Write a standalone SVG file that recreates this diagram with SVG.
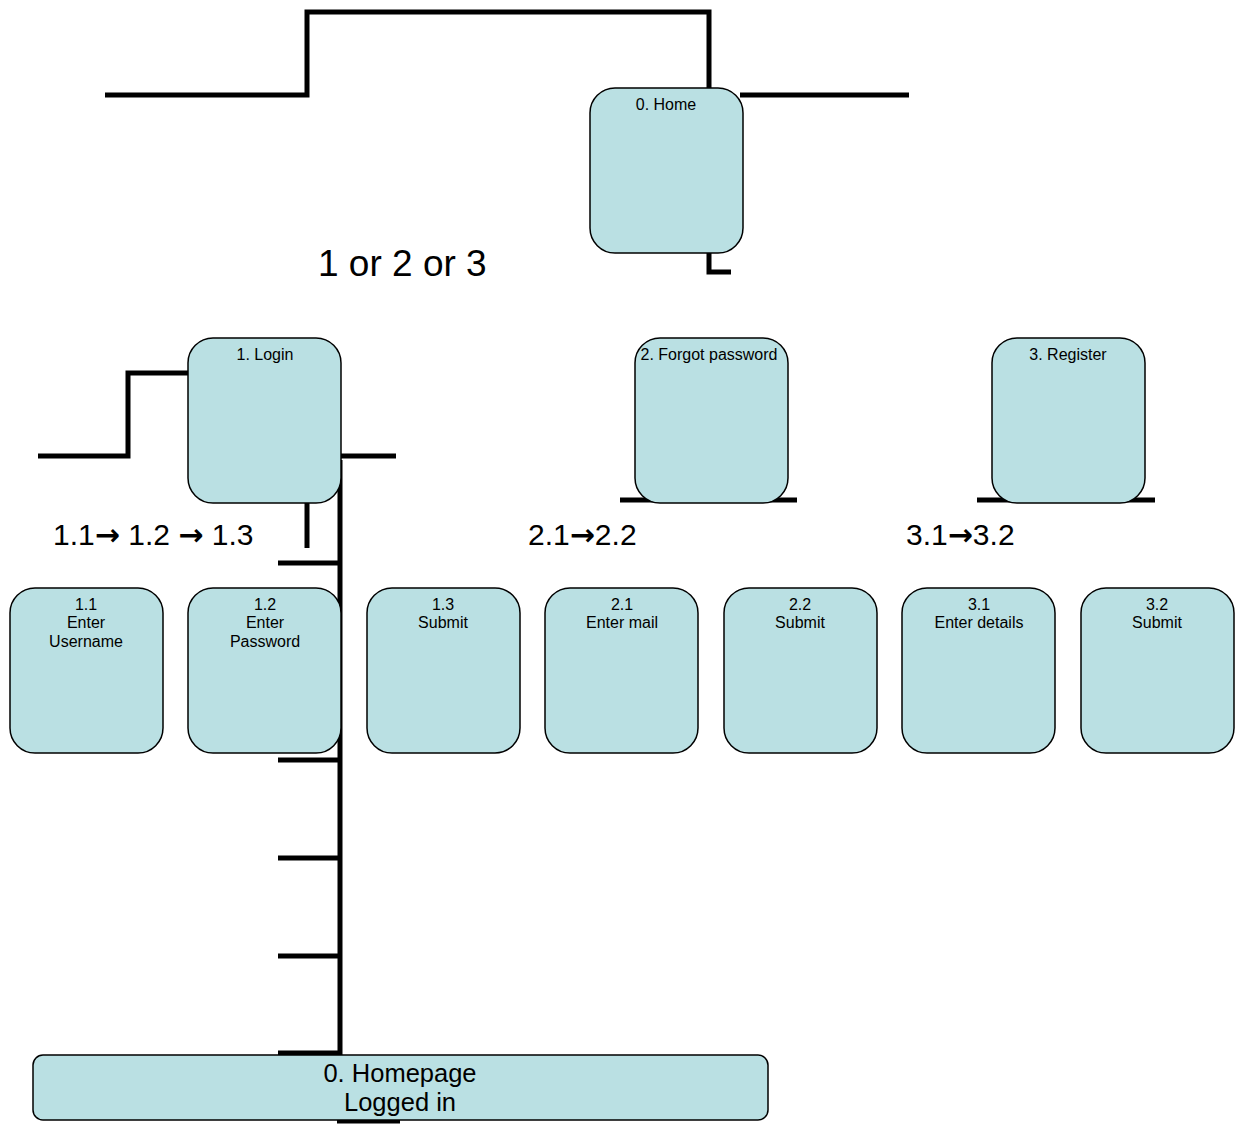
<svg xmlns="http://www.w3.org/2000/svg" width="1239" height="1124" viewBox="0 0 1239 1124">
<style>
.box{fill:#bae0e3;stroke:#000;stroke-width:1.5}
.ln{fill:none;stroke:#000;stroke-width:5}
.t{font-family:"Liberation Sans",Arial,sans-serif;font-size:16px;text-anchor:middle;fill:#000}
.big{font-family:"Liberation Sans",Arial,sans-serif;font-size:37px;fill:#000}
.mid{font-family:"Liberation Sans",Arial,sans-serif;font-size:30px;fill:#000}
.ar{font-family:"DejaVu Sans",sans-serif;font-weight:bold}
.hp{font-family:"Liberation Sans",Arial,sans-serif;font-size:25.5px;text-anchor:middle;fill:#000}
</style>
<rect width="1239" height="1124" fill="#fff"/>
<g id="connectors">
<polyline class="ln" points="105,95 307,95 307,12 709,12 709,88"/>
<line class="ln" x1="740" y1="95" x2="909" y2="95"/>
<polyline class="ln" points="709,253 709,272 731,272"/>
<polyline class="ln" points="38,456 128,456 128,373 188,373"/>
<line class="ln" x1="341" y1="456" x2="396" y2="456"/>
<line class="ln" x1="307" y1="503" x2="307" y2="548"/>
<line class="ln" x1="340" y1="460" x2="340" y2="1055"/>
<line class="ln" x1="278" y1="563" x2="340" y2="563"/>
<line class="ln" x1="278" y1="760" x2="340" y2="760"/>
<line class="ln" x1="278" y1="858" x2="340" y2="858"/>
<line class="ln" x1="278" y1="956" x2="340" y2="956"/>
<line class="ln" x1="278" y1="1053" x2="340" y2="1053"/>
<line class="ln" x1="337" y1="1121" x2="400" y2="1121"/>
<line class="ln" x1="620" y1="500" x2="797" y2="500"/>
<line class="ln" x1="977" y1="500" x2="1155" y2="500"/>
</g>
<g id="home"><rect class="box" x="590" y="88" width="153" height="165" rx="25"/><text class="t" x="666" y="110">0. Home</text></g>
<text class="big" x="318" y="276">1 or 2 or 3</text>
<g id="login"><rect class="box" x="188" y="338" width="153" height="165" rx="25"/><text class="t" x="265" y="360">1. Login</text></g>
<g id="forgot"><rect class="box" x="635" y="338" width="153" height="165" rx="25"/><text class="t" x="709" y="360">2. Forgot password</text></g>
<g id="register"><rect class="box" x="992" y="338" width="153" height="165" rx="25"/><text class="t" x="1068" y="360">3. Register</text></g>
<text class="mid" x="53" y="545">1.1<tspan class="ar">→</tspan> 1.2 <tspan class="ar">→</tspan> 1.3</text>
<text class="mid" x="528" y="545">2.1<tspan class="ar">→</tspan>2.2</text>
<text class="mid" x="906" y="545">3.1<tspan class="ar">→</tspan>3.2</text>
<g id="n11"><rect class="box" x="10" y="588" width="153" height="165" rx="25"/><text class="t" x="86" y="610">1.1</text><text class="t" x="86" y="628">Enter</text><text class="t" x="86" y="647">Username</text></g>
<g id="n12"><rect class="box" x="188" y="588" width="153" height="165" rx="25"/><text class="t" x="265" y="610">1.2</text><text class="t" x="265" y="628">Enter</text><text class="t" x="265" y="647">Password</text></g>
<g id="n13"><rect class="box" x="367" y="588" width="153" height="165" rx="25"/><text class="t" x="443" y="610">1.3</text><text class="t" x="443" y="628">Submit</text></g>
<g id="n21"><rect class="box" x="545" y="588" width="153" height="165" rx="25"/><text class="t" x="622" y="610">2.1</text><text class="t" x="622" y="628">Enter mail</text></g>
<g id="n22"><rect class="box" x="724" y="588" width="153" height="165" rx="25"/><text class="t" x="800" y="610">2.2</text><text class="t" x="800" y="628">Submit</text></g>
<g id="n31"><rect class="box" x="902" y="588" width="153" height="165" rx="25"/><text class="t" x="979" y="610">3.1</text><text class="t" x="979" y="628">Enter details</text></g>
<g id="n32"><rect class="box" x="1081" y="588" width="153" height="165" rx="25"/><text class="t" x="1157" y="610">3.2</text><text class="t" x="1157" y="628">Submit</text></g>
<g id="homepage"><rect class="box" x="33" y="1055" width="735" height="65" rx="10"/><text class="hp" x="400" y="1082">0. Homepage</text><text class="hp" x="400" y="1111">Logged in</text></g>
</svg>
